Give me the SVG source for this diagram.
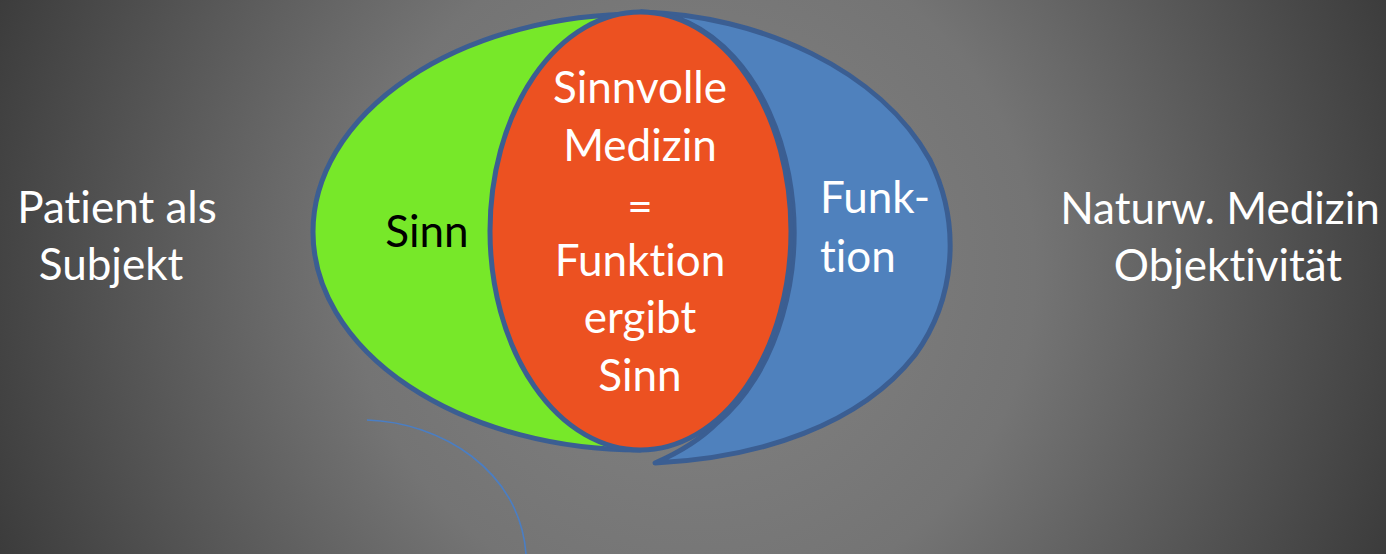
<svg xmlns="http://www.w3.org/2000/svg" width="1386" height="554" viewBox="0 0 1386 554">
  <defs>
    <radialGradient id="bg" gradientUnits="userSpaceOnUse" cx="693" cy="270" r="760">
      <stop offset="0" stop-color="#848484"/>
      <stop offset="0.45" stop-color="#747474"/>
      <stop offset="1" stop-color="#3a3a3a"/>
    </radialGradient>
    <style>
      .lbl { font-family: Lato, "Open Sans", "Liberation Sans", sans-serif; font-size: 44px; fill: #ffffff;
             font-variant-ligatures: none; font-feature-settings: "liga" 0, "clig" 0; }
      .mid { text-anchor: middle; }
      .dark { fill: #000000; }
      .shape { stroke: #3b5e92; stroke-width: 5; stroke-linejoin: round; }
      .link { fill: none; stroke: #4a7ec4; stroke-width: 1.6; }
    </style>
  </defs>

  <!-- backdrop -->
  <rect x="0" y="0" width="1386" height="554" fill="url(#bg)"/>

  <!-- left caption -->
  <g id="patient">
    <text class="lbl mid" x="117" y="223">Patient als</text>
    <text class="lbl mid" x="111" y="280">Subjekt</text>
  </g>

  <!-- right caption -->
  <g id="naturwissenschaft">
    <text class="lbl mid" x="1220" y="224">Naturw. Medizin</text>
    <text class="lbl mid" x="1228" y="281">Objektivität</text>
  </g>

  <!-- blue crescent: Funktion -->
  <g id="funktion">
    <path class="shape" fill="#4f81bd"
          d="M 641,12 C 760,15 880,70 930,160 C 962,225 955,300 915,355 C 860,425 760,458 655,463 C 678,453 700,440 717.5,422.5 A 153 220 0 0 0 641 12 Z"/>
    <text class="lbl" x="820" y="213">Funk-</text>
    <text class="lbl" x="820" y="272">tion</text>
  </g>

  <!-- green half: Sinn -->
  <g id="sinn">
    <path class="shape" fill="#77e829"
          d="M 640,14 A 327 218 0 0 0 640 450 Z"/>
    <text class="lbl dark mid" x="427" y="247">Sinn</text>
  </g>

  <!-- orange overlap: Sinnvolle Medizin -->
  <g id="sinnvolle-medizin">
    <ellipse class="shape" fill="#ec5121" cx="640.5" cy="231" rx="150.5" ry="219"/>
    <text class="lbl mid" x="640" y="103">Sinnvolle</text>
    <text class="lbl mid" x="640" y="161">Medizin</text>
    <text class="lbl mid" x="640" y="222">=</text>
    <text class="lbl mid" x="640" y="276">Funktion</text>
    <text class="lbl mid" x="640" y="333">ergibt</text>
    <text class="lbl mid" x="640" y="391">Sinn</text>
  </g>

  <!-- connectors -->
  <g id="connectors">
    <path class="link" d="M 367,420 C 440,422 520,470 526,554"/>
  </g>
</svg>
